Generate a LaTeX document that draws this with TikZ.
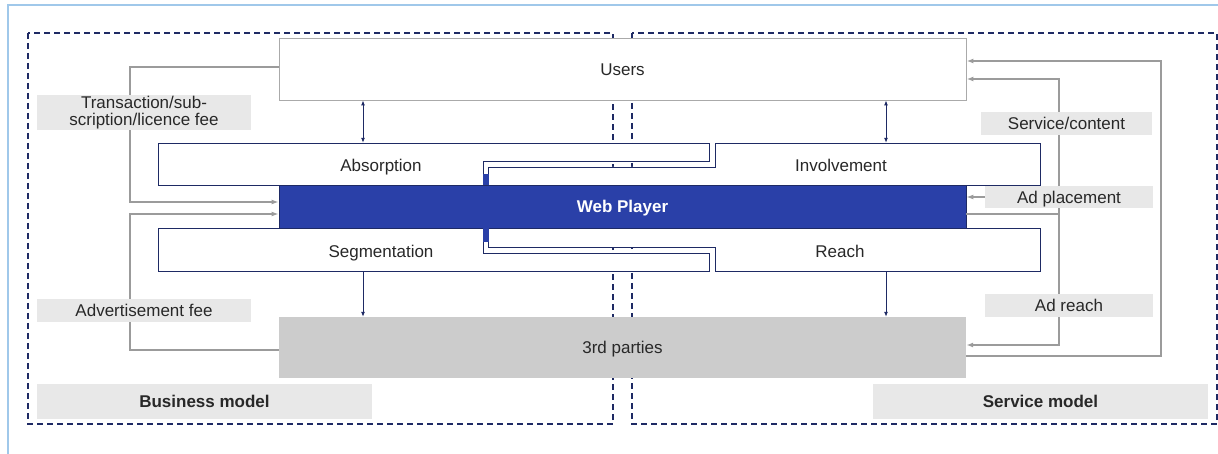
\documentclass[tikz,border=0pt]{standalone}
\usepackage{fontspec}
\setmainfont{Liberation Sans}
\usetikzlibrary{arrows.meta}
\definecolor{webblue}{RGB}{42,64,168}
\definecolor{navy}{RGB}{30,42,100}
\definecolor{lgray}{RGB}{155,155,155}
\definecolor{lblfill}{RGB}{232,232,232}
\definecolor{thirdfill}{RGB}{204,204,204}
\definecolor{usersborder}{RGB}{170,170,170}
\definecolor{txt}{RGB}{40,40,40}
\definecolor{frameblue}{RGB}{160,200,234}
\begin{document}
\begin{tikzpicture}[x=1pt,y=-1pt,
  every node/.style={font=\fontsize{17}{17}\selectfont, text=txt},
  cc/.style={text height=12.2pt, text depth=0pt},
  bold/.style={font=\fontsize{17}{17}\selectfont\bfseries},
  gline/.style={draw=lgray, line width=1.4pt},
  garrow/.style={gline, -{Latex[length=7pt,width=5pt]}},
  narrow/.style={draw=navy, line width=0.9pt},
  ntip/.style={-{Latex[length=5pt,width=4pt]}},
  nboth/.style={{Latex[length=5pt,width=4pt]}-{Latex[length=5pt,width=4pt]}},
  lbl/.style={fill=lblfill, inner sep=0pt, align=center},
  shapebox/.style={draw=navy, fill=white, line width=0.8pt},
  ghost/.style={inner sep=0pt, draw=none},
  dashbox/.style={draw=navy, line width=1.3pt, dash pattern=on 6pt off 4pt}]
\useasboundingbox (0,0) rectangle (1218,454);
% outer frame
\draw[frameblue, line width=1.3pt] (8,454) -- (8,5) -- (1218,5);
% dashed model areas
\draw[dashbox] (28,33) rectangle (613,424);
\draw[dashbox] (632,33) rectangle (1217,424);

% main boxes
\node[cc, draw=usersborder, fill=white, line width=0.9pt, minimum width=687pt, minimum height=62pt, inner sep=0pt] (users) at (622.5,69) {Users};
\node[cc, fill=thirdfill, minimum width=687pt, minimum height=61pt, inner sep=0pt] (third) at (622.5,347.5) {3rd parties};

% interlocking shapes
\draw[shapebox] (158,143) -- (709,143) -- (709,161) -- (483,161) -- (483,185) -- (158,185) -- cycle;
\draw[shapebox] (715,143) -- (1040,143) -- (1040,185) -- (488,185) -- (488,167) -- (715,167) -- cycle;
\draw[shapebox] (158,228) -- (483,228) -- (483,253) -- (709,253) -- (709,271) -- (158,271) -- cycle;
\draw[shapebox] (488,228) -- (1040,228) -- (1040,271) -- (715,271) -- (715,247) -- (488,247) -- cycle;
\node[ghost, minimum width=325pt, minimum height=42pt] (absbox) at (320.5,164) {};
\node[ghost, minimum width=325pt, minimum height=42pt] (invbox) at (877.5,164) {};
\node[ghost, minimum width=325pt, minimum height=43pt] (segbox) at (320.5,249.5) {};
\node[ghost, minimum width=325pt, minimum height=43pt] (reabox) at (877.5,249.5) {};
\node[cc] (absorption) at (381,165) {Absorption};
\node[cc] (involvement) at (841,165) {Involvement};
\node[cc] (segmentation) at (381,251) {Segmentation};
\node[cc] (reach) at (840,251) {Reach};

% web player
\node[cc, fill=webblue, draw=navy, line width=0.8pt, minimum width=687pt, minimum height=43pt, inner sep=0pt, text=white, bold] (web) at (622.5,206.5) {Web Player};
\fill[webblue] (483,174) rectangle (488.5,185);
\fill[webblue] (483,228) rectangle (488.5,242);

% gray flows (left)
\coordinate (gL) at (130,0);
\draw[garrow] (users.west |- 0,67) -| (gL |- 0,202) -- (web.west |- 0,202);
\draw[garrow] (third.west |- 0,350) -| (gL |- 0,214) -- (web.west |- 0,214);
% gray flows (right)
\coordinate (gR1) at (1059,0);
\coordinate (gR2) at (1161,0);
\draw[garrow] (third.east |- 0,356) -| (gR2 |- 0,61) -- (users.east |- 0,61);
\draw[garrow] (web.east |- 0,214) -| (gR1 |- 0,79) -- (users.east |- 0,79);
\draw[garrow] (web.east |- 0,214) -| (gR1 |- 0,345) -- (third.east |- 0,345);

% navy arrows
\coordinate (xL) at (363,0);
\coordinate (xR) at (886,0);
\draw[narrow, nboth] (users.south -| xL) -- (absbox.north -| xL);
\draw[narrow, nboth] (users.south -| xR) -- (invbox.north -| xR);
\draw[narrow, ntip] (segbox.south -| xL) -- (third.north -| xL);
\draw[narrow, ntip] (reabox.south -| xR) -- (third.north -| xR);

% labels
\node[lbl, minimum width=214pt, minimum height=35pt] (fee1) at (144,113) {Transaction/sub-\\scription/licence fee};
\node[lbl, cc, minimum width=214pt, minimum height=23pt] (fee2) at (144,310.5) {Advertisement fee};
\node[lbl, cc, minimum width=171pt, minimum height=23pt] (svc) at (1066.5,123.5) {Service/content};
\node[lbl, cc, minimum width=168pt, minimum height=22pt] (adpl) at (1069,197) {Ad placement};
\node[lbl, cc, minimum width=168pt, minimum height=23pt] (adre) at (1069,305.5) {Ad reach};
\draw[garrow] (adpl.west) -- (adpl.west -| web.east);
\node[lbl, cc, bold, minimum width=335pt, minimum height=35pt] (bm) at (204.5,401.5) {Business model};
\node[lbl, cc, bold, minimum width=335pt, minimum height=35pt] (sm) at (1040.5,401.5) {Service model};
\end{tikzpicture}
\end{document}
